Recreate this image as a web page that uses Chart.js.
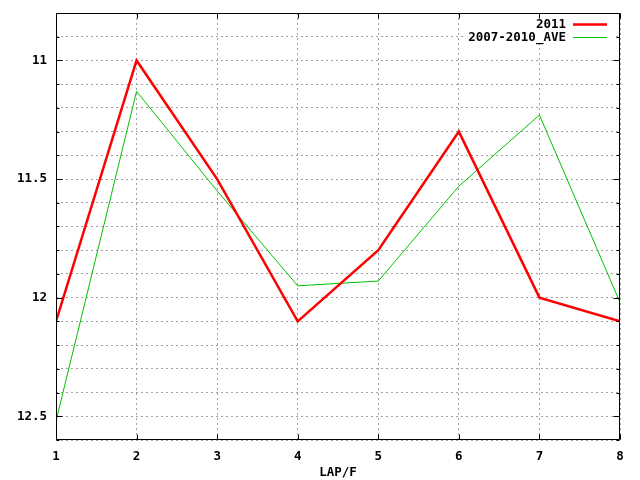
<!DOCTYPE html>
<html>
<head>
<meta charset="utf-8">
<script src="https://cdn.jsdelivr.net/npm/chart.js@4/dist/chart.umd.min.js"></script>
<style>
  html, body { margin: 0; padding: 0; background: #fff; }
  #box { width: 640px; height: 480px; }
</style>
</head>
<body>
<div id="box"><canvas id="lapChart"></canvas></div>
<script>
// LAP/F values, y axis is reversed (smaller is better)
const laps = [1, 2, 3, 4, 5, 6, 7, 8];
const series2011 = [12.1, 11.0, 11.5, 12.1, 11.8, 11.3, 12.0, 12.1];
const seriesAve = [12.52, 11.13, 11.55, 11.95, 11.93, 11.53, 11.23, 12.02];
const yLabels = [11, 11.5, 12, 12.5];

const FONT = 'bold 12.5px "DejaVu Sans Mono", monospace';
const tickFont = { family: '"DejaVu Sans Mono", monospace', size: 12.5, weight: 'bold' };

// gnuplot style: full black border, inward ticks on all sides, legend top right inside
const gnuplotFrame = {
  id: 'gnuplotFrame',
  beforeDatasetsDraw(chart) {
    // key area is opaque, grid does not show through it
    const { ctx, chartArea: a } = chart;
    ctx.save();
    ctx.font = FONT;
    const w = Math.max(...chart.data.datasets.map(d => ctx.measureText(d.label).width));
    ctx.fillStyle = '#fff';
    ctx.fillRect(a.right - 56 - w, a.top + 3, w + 52, 28);
    ctx.restore();
  },
  afterDatasetsDraw(chart) {
    const { ctx, chartArea: a, scales } = chart;
    const L = Math.round(a.left) + 0.5, R = Math.round(a.right) - 0.5;
    const T = Math.round(a.top) + 0.5, B = Math.round(a.bottom) - 0.5;
    ctx.save();
    ctx.setLineDash([]);
    ctx.strokeStyle = '#000';
    ctx.lineWidth = 1;
    ctx.beginPath();
    // y ticks, every 0.1, longer at 0.5
    for (let i = 108; i <= 126; i++) {
      const v = i / 10;
      const y = Math.round(scales.y.getPixelForValue(v)) + 0.5;
      const len = (i % 5 === 0) ? 6 : 3;
      ctx.moveTo(L, y); ctx.lineTo(L + len, y);
      ctx.moveTo(R, y); ctx.lineTo(R - len, y);
    }
    laps.forEach(v => {
      const x = Math.round(scales.x.getPixelForValue(v)) + 0.5;
      ctx.moveTo(x, B); ctx.lineTo(x, B - 5);
      ctx.moveTo(x, T); ctx.lineTo(x, T + 5);
    });
    // border
    ctx.moveTo(L, T); ctx.lineTo(R, T); ctx.lineTo(R, B); ctx.lineTo(L, B); ctx.closePath();
    ctx.stroke();

    // legend
    ctx.font = FONT;
    ctx.textAlign = 'right';
    ctx.textBaseline = 'middle';
    chart.data.datasets.forEach((ds, i) => {
      const y = Math.round(a.top + 11 + i * 12.5) + 0.5;
      ctx.fillStyle = '#000';
      ctx.fillText(ds.label, a.right - 54, y);
      ctx.strokeStyle = ds.borderColor;
      ctx.lineWidth = ds.borderWidth;
      ctx.beginPath();
      ctx.moveTo(a.right - 47, y);
      ctx.lineTo(a.right - 13, y);
      ctx.stroke();
    });
    ctx.restore();
  }
};

new Chart(document.getElementById('lapChart'), {
  type: 'line',
  data: {
    datasets: [
      {
        label: '2011',
        data: laps.map((x, i) => ({ x, y: series2011[i] })),
        borderColor: '#ff0000',
        borderWidth: 2.5,
        pointRadius: 0,
        tension: 0
      },
      {
        label: '2007-2010_AVE',
        data: laps.map((x, i) => ({ x, y: seriesAve[i] })),
        borderColor: '#00c000',
        borderWidth: 1,
        pointRadius: 0,
        tension: 0
      }
    ]
  },
  options: {
    responsive: true,
    maintainAspectRatio: false,
    animation: false,
    layout: { padding: { top: 13, right: 20, left: 0, bottom: 0 } },
    plugins: {
      legend: { display: false },
      tooltip: { enabled: false }
    },
    scales: {
      x: {
        type: 'linear',
        min: 1,
        max: 8,
        afterFit: s => { s.height = 40; s.paddingLeft = 0; s.paddingRight = 0; },
        border: { display: false, dash: [2, 3] },
        grid: {
          color: '#a0a0a0',
          drawTicks: false
        },
        ticks: {
          stepSize: 1,
          padding: 9,
          color: '#000',
          font: tickFont
        },
        title: {
          display: true,
          text: 'LAP/F',
          color: '#000',
          padding: { top: 2, bottom: 0 },
          font: tickFont
        }
      },
      y: {
        type: 'linear',
        reverse: true,
        min: 10.8,
        max: 12.6,
        afterFit: s => { s.width = 56; s.paddingTop = 0; s.paddingBottom = 0; },
        border: { display: false, dash: [2, 3] },
        grid: {
          color: '#a0a0a0',
          drawTicks: false
        },
        ticks: {
          stepSize: 0.1,
          padding: 9,
          color: '#000',
          autoSkip: false,
          font: tickFont,
          callback: v => {
            const r = Math.round(v * 10) / 10;
            return yLabels.includes(r) ? String(r) : '';
          }
        }
      }
    }
  },
  plugins: [gnuplotFrame]
});
</script>
</body>
</html>
